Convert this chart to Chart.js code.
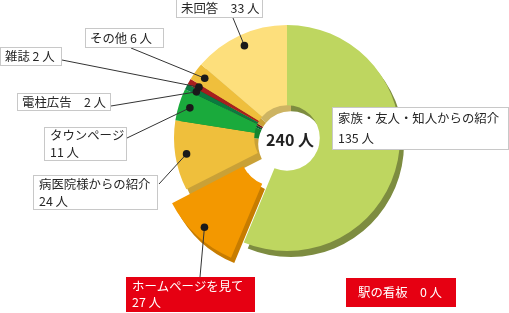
<!DOCTYPE html>
<html lang="ja">
<head>
<meta charset="utf-8">
<script src="https://cdn.jsdelivr.net/npm/chart.js@4"></script>
<style>
html, body { margin: 0; padding: 0; background: #fff; }
canvas { display: block; }
</style>
</head>
<body>
<canvas id="graph0" width="509" height="313"></canvas>
<script>
// DATA
const categories = ['家族・友人・知人からの紹介', 'ホームページを見て', '病医院様からの紹介', 'タウンページ', '電柱広告', '雑誌', 'その他', '未回答', '駅の看板']
const counts = [135, 27, 24, 11, 2, 2, 6, 33, 0]
const unit = '人'

// STYLE
const sliceColors = ['#bed660', '#f39800', '#efbf3c', '#1aaa3c', '#0b7a40', '#a71f1f', '#efbf3c', '#fddf7c', '#e60012']
const shadowColors = ['#7d8c40', '#c77c00', '#c9a137', '#13852f', '#075a2e', '#761414', '#c9a137', '#cdb463', '#a00010']
const sliceOffsets = [0, 59, 0, 0, 0, 0, 0, 0, 0]

// label boxes (layout only), same order as categories
const labelBoxes = [
    { x: 332, y: 107, w: 177, h: 43, two: true, gap: 20, sep: ' ', red: false, from: null },
    { x: 126, y: 277, w: 129, h: 35, two: true, gap: 16, sep: ' ', red: true, from: [200, 277] },
    { x: 33, y: 175, w: 125, h: 35, two: true, gap: 17, sep: ' ', red: false, from: [159, 184] },
    { x: 44, y: 127, w: 83, h: 34, two: true, gap: 17, sep: ' ', red: false, from: [127, 138] },
    { x: 17, y: 93, w: 94, h: 18, two: false, sep: '　', red: false, from: [111, 106] },
    { x: 0, y: 47, w: 62, h: 19, two: false, sep: ' ', red: false, from: [62, 60] },
    { x: 85, y: 28, w: 79, h: 20, two: false, sep: ' ', red: false, from: [131, 48] },
    { x: 176, y: -1, w: 87, h: 19, two: false, sep: '　', red: false, from: [233, 18] },
    { x: 346, y: 278, w: 110, h: 29, two: false, sep: '　', red: true, from: null }
]

const FONT = '"Noto Sans CJK JP", "Noto Sans", sans-serif'

// where chart.js moves an offset arc
function shiftOf(arc) {
    const off = (arc.options.offset || 0) / 4
    const fix = 1 - Math.sin(Math.min(Math.PI, arc.circumference || 0))
    const mid = (arc.startAngle + arc.endAngle) / 2
    const d = off * (1 + fix)
    return { dx: Math.cos(mid) * d, dy: Math.sin(mid) * d }
}

// 3D edge under each slice
const shadowPlugin = {
    id: 'shadow3d',
    beforeDatasetsDraw(chart) {
        const ctx = chart.ctx
        const arcs = chart.getDatasetMeta(0).data
        ctx.save()
        ctx.translate(4, 6)
        arcs.forEach((arc, i) => {
            if (!arc.circumference) return
            const s = shiftOf(arc)
            const cx = arc.x + s.dx, cy = arc.y + s.dy
            ctx.beginPath()
            ctx.arc(cx, cy, arc.outerRadius, arc.startAngle, arc.endAngle)
            ctx.arc(cx, cy, arc.innerRadius, arc.endAngle, arc.startAngle, true)
            ctx.closePath()
            ctx.fillStyle = shadowColors[i]
            ctx.fill()
        })
        ctx.restore()
    }
}

// labels, leader lines, center total
const labelPlugin = {
    id: 'labels',
    afterDraw(chart) {
        const ctx = chart.ctx
        const arcs = chart.getDatasetMeta(0).data
        ctx.save()

        // leader lines + dots
        labelBoxes.forEach((b, i) => {
            if (!b.from) return
            const arc = arcs[i]
            const s = shiftOf(arc)
            const mid = (arc.startAngle + arc.endAngle) / 2
            const r = arc.outerRadius * 0.9
            const px = arc.x + s.dx + Math.cos(mid) * r
            const py = arc.y + s.dy + Math.sin(mid) * r
            ctx.strokeStyle = '#333'
            ctx.lineWidth = 1
            ctx.beginPath()
            ctx.moveTo(b.from[0], b.from[1])
            ctx.lineTo(px, py)
            ctx.stroke()
            ctx.fillStyle = '#1a1a1a'
            ctx.beginPath()
            ctx.arc(px, py, 3.8, 0, Math.PI * 2)
            ctx.fill()
        })

        // boxes
        ctx.textBaseline = 'middle'
        ctx.textAlign = 'left'
        ctx.font = '12.4px ' + FONT
        labelBoxes.forEach((b, i) => {
            if (b.red) {
                ctx.fillStyle = '#e60012'
                ctx.fillRect(b.x, b.y, b.w, b.h)
            } else {
                ctx.fillStyle = '#fff'
                ctx.fillRect(b.x + 0.5, b.y + 0.5, b.w - 1, b.h - 1)
                ctx.strokeStyle = '#c8c8c8'
                ctx.lineWidth = 1
                ctx.strokeRect(b.x + 0.5, b.y + 0.5, b.w - 1, b.h - 1)
            }
            ctx.fillStyle = b.red ? '#fff' : '#262626'
            const cy = b.y + b.h / 2
            if (b.two) {
                ctx.fillText(categories[i], b.x + 6, cy - b.gap / 2)
                ctx.fillText(counts[i] + ' ' + unit, b.x + 6, cy + b.gap / 2)
            } else {
                const pad = b.red ? 12 : 5
                ctx.fillText(categories[i] + b.sep + counts[i] + ' ' + unit, b.x + pad, cy)
            }
        })

        // total in the hole
        const total = counts.reduce((a, v) => a + v, 0)
        const c = arcs[0]
        ctx.fillStyle = '#222'
        ctx.textAlign = 'center'
        ctx.font = 'bold 16px ' + FONT
        ctx.fillText(total + ' ' + unit, c.x + 3, c.y + 2)
        ctx.restore()
    }
}

const ctx = document.getElementById('graph0').getContext('2d')
const graph0 = new Chart(ctx, {
    type: 'doughnut',
    data: {
        labels: categories,
        datasets: [{
            data: counts,
            backgroundColor: sliceColors,
            borderWidth: 0,
            offset: sliceOffsets,
            hoverOffset: 0
        }]
    },
    options: {
        responsive: false,
        animation: false,
        devicePixelRatio: 1,
        radius: 113,
        cutout: '29%',
        layout: { padding: { left: 65, right: 0, top: 0, bottom: 37 } },
        plugins: {
            legend: { display: false },
            tooltip: { enabled: false }
        },
        events: []
    },
    plugins: [shadowPlugin, labelPlugin]
})
</script>
</body>
</html>
